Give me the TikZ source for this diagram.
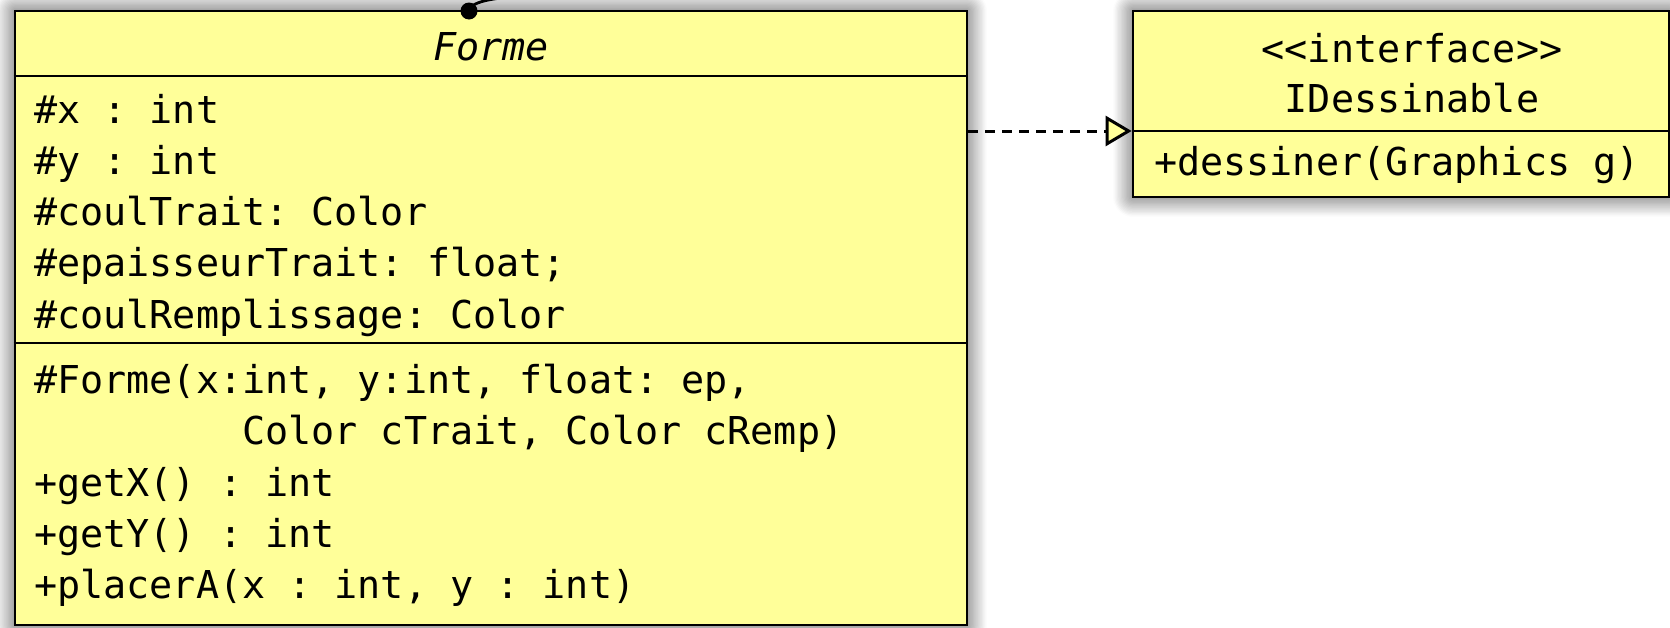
\documentclass[tikz,border=0pt]{standalone}
\usepackage{fontspec}
\setmonofont{DejaVu Sans Mono}
\usepackage{xcolor}
\usepackage{tikz}
\usetikzlibrary{positioning}
\usetikzlibrary{arrows.meta,shadows.blur}
\definecolor{umlyellow}{RGB}{255,255,153}

\begin{document}
\begin{tikzpicture}
                [x=1pt, y=-1pt,
                 classe/.style = {draw, line width=2.8pt, fill=umlyellow, inner sep=0pt,
                    blur shadow={shadow xshift=0pt, shadow yshift=0pt, shadow blur radius=20pt,
                                 shadow blur steps=16, shadow opacity=75}},
                 membre/.style = {anchor=base west, inner sep=0pt, font=\ttfamily\fontsize{38.4}{51.3}\selectfont},
                 titre/.style = {anchor=base, inner sep=0pt, font=\ttfamily\fontsize{38.4}{51.3}\selectfont},
                 sep/.style = {line width=2.8pt}]
                \useasboundingbox (0,0) rectangle (1670,627);
                % Class boxes
                \node[classe, minimum width=952pt, minimum height=614pt] (forme) at (491,318) {};
                \node[classe, minimum width=536pt, minimum height=186pt] (idess) at (1401,104) {};
                % Compartment lines
                \path[sep] (forme.west |- 0,76) edge (forme.east |- 0,76);
                \path[sep] (forme.west |- 0,343) edge (forme.east |- 0,343);
                \coordinate (isepw) at (idess.west |- 0,131);
                \path[sep] (isepw) edge (idess.east |- isepw);
                % Forme name
                \node[titre, font=\ttfamily\itshape\fontsize{38.4}{51.3}\selectfont] (fname) at (491,60) {Forme};
                % Forme attributes
                \node[membre] (ax) at (34,123) {\#x : int};
                \node[membre] (ay) at (34,174.3) {\#y : int};
                \node[membre] (act) at (34,225.6) {\#coulTrait: Color};
                \node[membre] (aep) at (34,276.9) {\#epaisseurTrait: float;};
                \node[membre] (acr) at (34,328.2) {\#coulRemplissage: Color};
                % Forme methods
                \node[membre] (mforme) at (34,393.5) {\#Forme(x:int, y:int, float: ep,};
                \node[membre] (mforme2) at (242,444.8) {Color cTrait, Color cRemp)};
                \node[membre] (mgetx) at (34,496.1) {+getX() : int};
                \node[membre] (mgety) at (34,547.4) {+getY() : int};
                \node[membre] (mplacer) at (34,598.7) {+placerA(x : int, y : int)};
                % Interface texts
                \node[titre] (istereo) at (1412,62) {<<interface>>};
                \node[titre] (iname) at (1412,112) {IDessinable};
                \node[membre] (idessiner) at (1154,175) {+dessiner(Graphics g)};
                % Realisation
                \draw[line width=3pt, dash pattern=on 10pt off 7pt,
                      -{Triangle[length=26pt, width=30pt, fill=umlyellow]}]
                      (forme.east |- isepw) -- (isepw);
                % Association end on top
                \node[circle, fill=black, inner sep=0pt, minimum size=17pt] (dot) at (469,11) {};
                \coordinate (assoc) at (570,-6);
                \draw[line width=2.8pt] (dot.center) .. controls (471,1) and (492,-4) .. (assoc);
            \end{tikzpicture}
\end{document}
